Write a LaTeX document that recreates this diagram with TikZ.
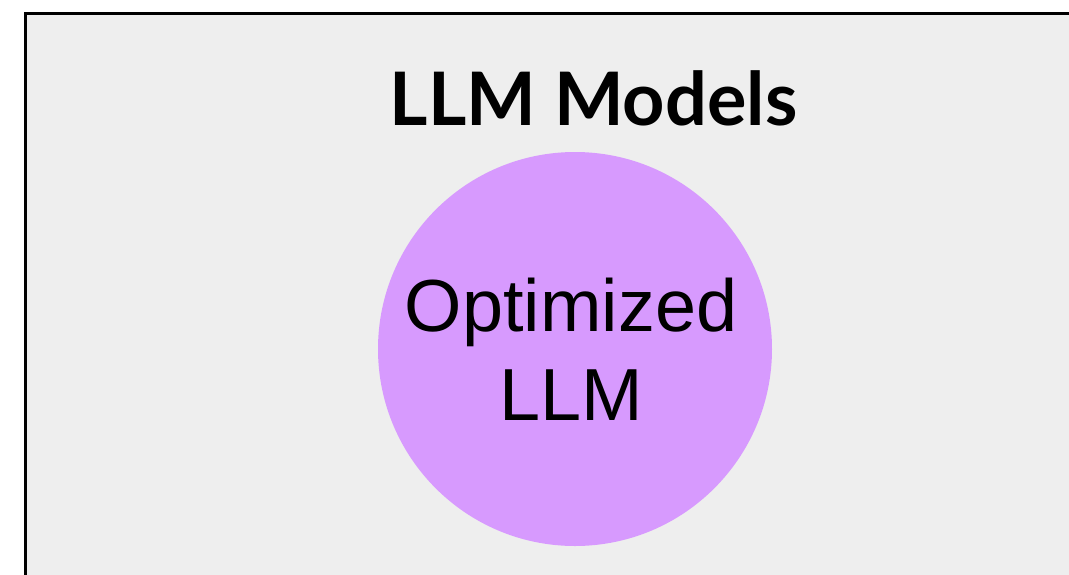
\documentclass[tikz,border=0pt]{standalone}
\usepackage{fontspec}
\usepackage{xcolor}
\usepackage{tikz}
\usetikzlibrary{positioning}
\newfontfamily\latofont{Lato}
\newfontfamily\arialfont{Liberation Sans}
\definecolor{PanelGray}{HTML}{EEEEEE}
\definecolor{SoftPurple}{HTML}{D79AFE}
\tikzset{
  PN/.style={draw=black,line width=1.2pt,fill=PanelGray},
  TT/.style={anchor=base,inner sep=0pt,
             font=\latofont\bfseries\fontsize{42}{50}\selectfont},
  CC/.style={circle,fill=SoftPurple,minimum size=7.88cm,inner sep=0pt},
  CT/.style={text centered,align=center,inner sep=0pt,
             font=\arialfont\fontsize{42}{50.6}\selectfont}
}
\begin{document}
\begin{tikzpicture}
  \useasboundingbox (0,0) rectangle (21.38,-11.48);
  \clip (0,0) rectangle (21.38,-11.48);
  \draw[PN] (0.51,-0.27) rectangle (22,-12);

  \node[TT] (title) at (11.87,-2.5) {LLM Models};
  \node[CC] (opt) at (11.5,-6.98) {};
  \node[CT] (optlbl) at ([xshift=-0.08cm]opt.center) {Optimized\\LLM};
\end{tikzpicture}
\end{document}
